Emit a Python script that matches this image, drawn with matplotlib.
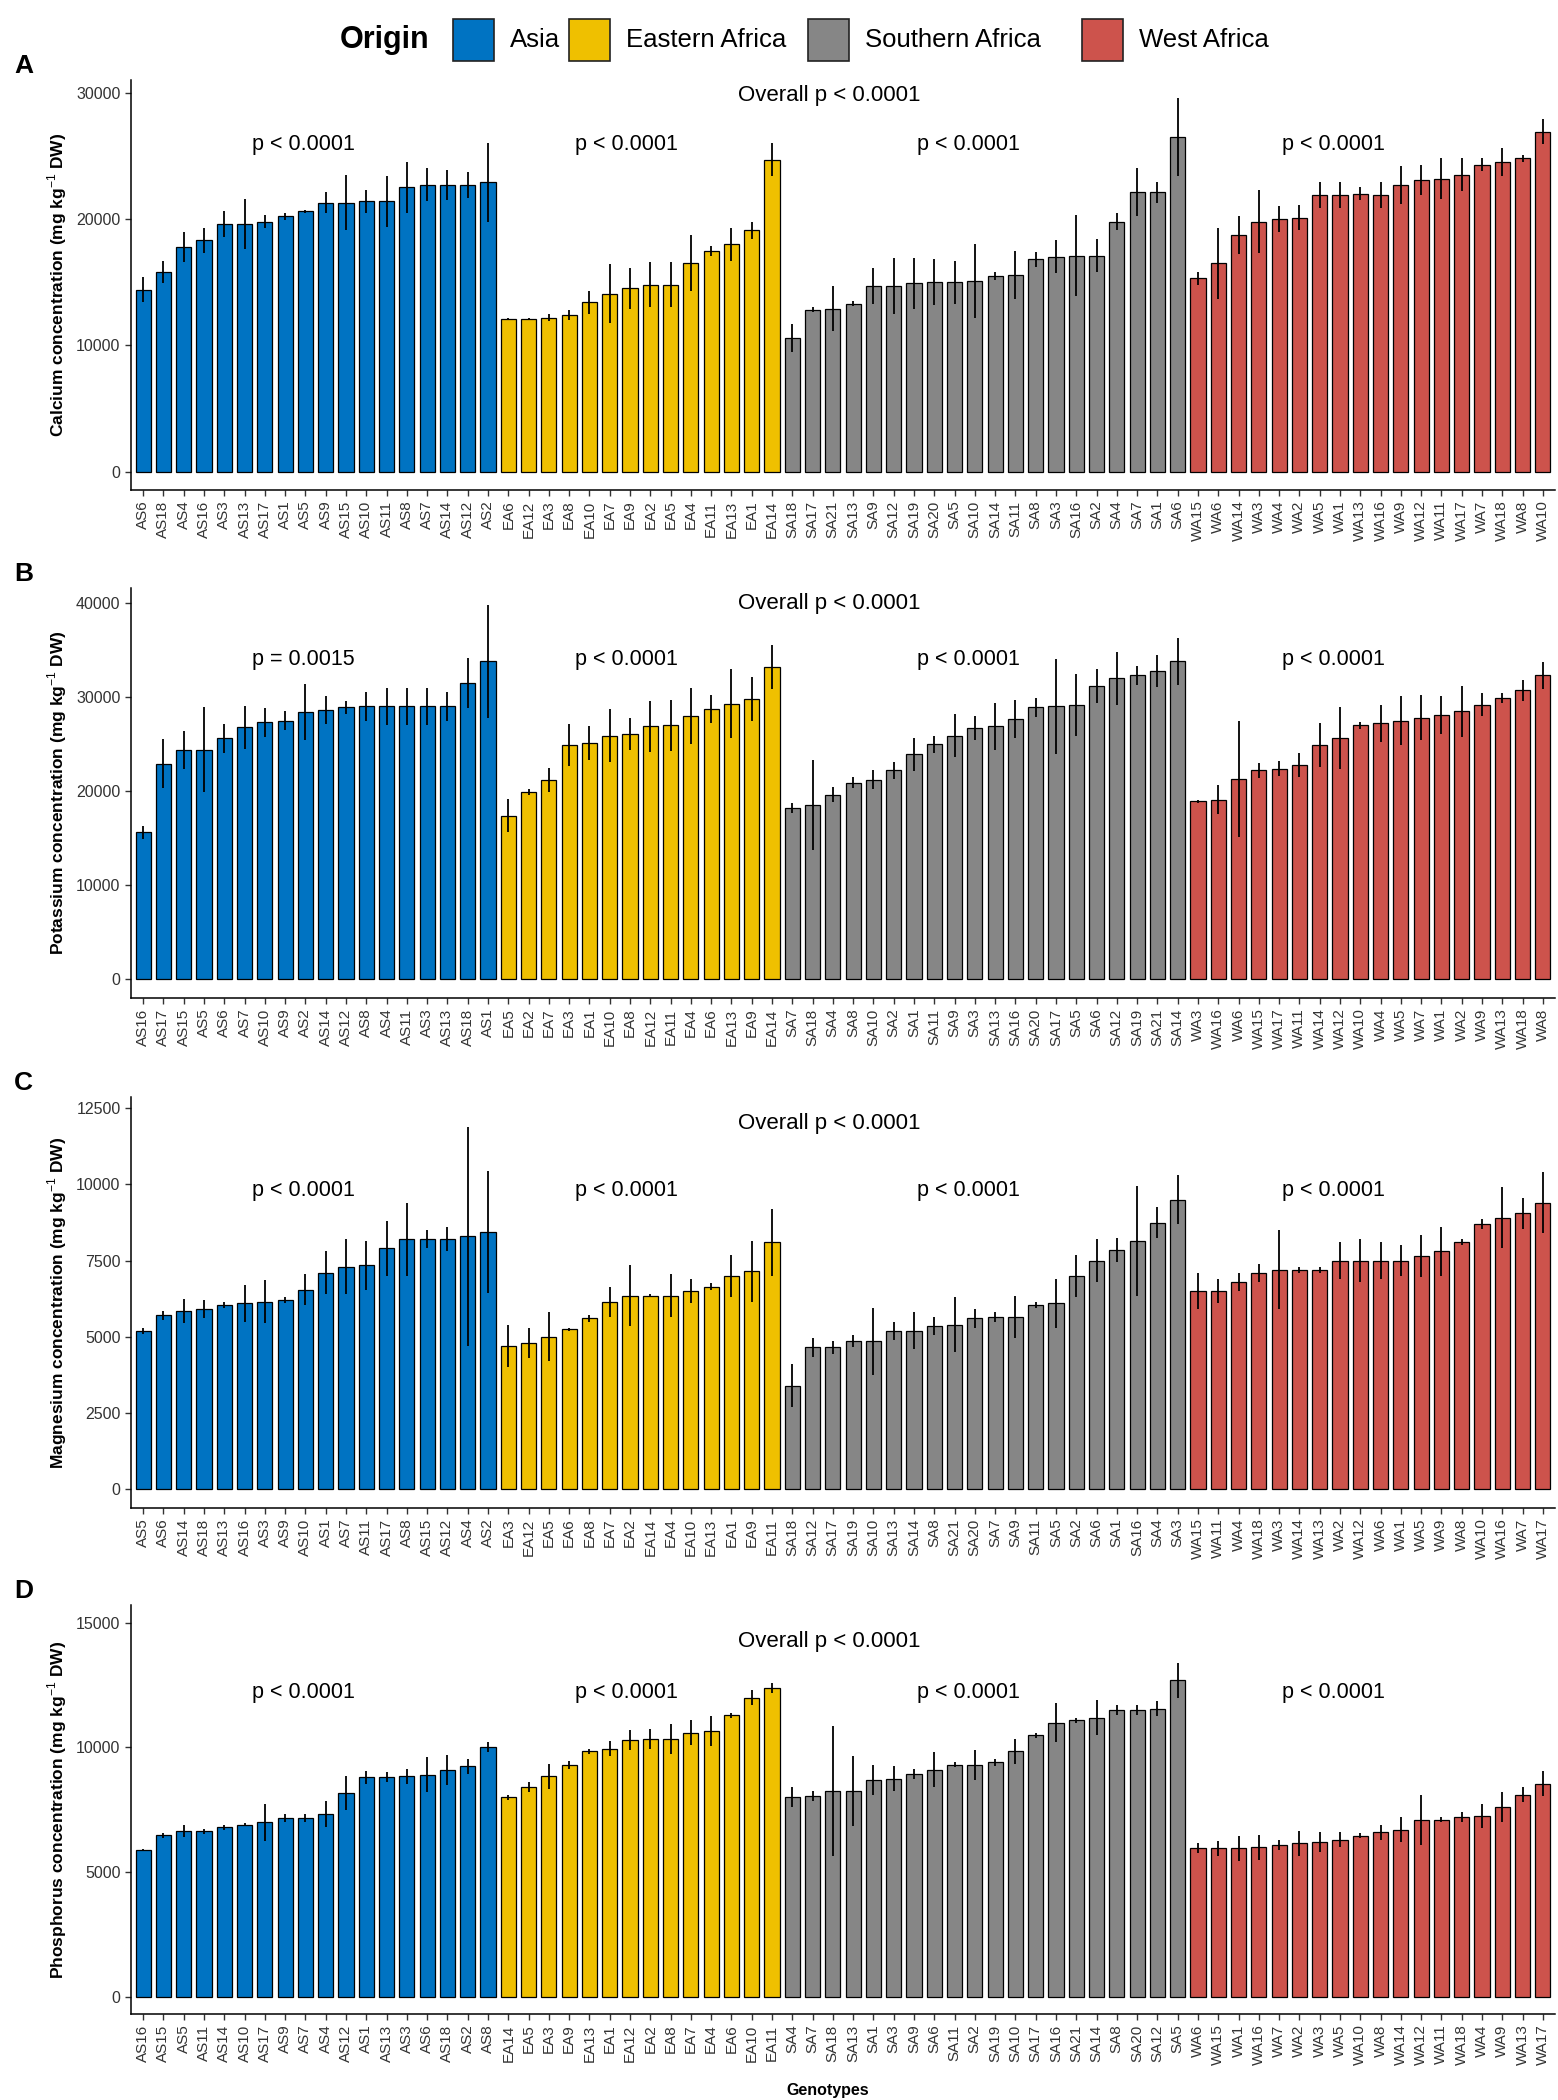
import matplotlib.pyplot as plt
from matplotlib.patches import Rectangle

plt.rcParams['font.family'] = ['Liberation Sans', 'DejaVu Sans']
plt.rcParams['mathtext.fontset'] = 'custom'
plt.rcParams['mathtext.rm'] = 'Liberation Sans'
plt.rcParams['mathtext.bf'] = 'Liberation Sans:bold'

origins = ['Asia', 'Eastern Africa', 'Southern Africa', 'West Africa']
prefixes = ['AS', 'EA', 'SA', 'WA']
colors = ['#0073C2', '#EFC000', '#868686', '#CD534C']

# A - calcium
ca_genotypes = ['AS6', 'AS18', 'AS4', 'AS16', 'AS3', 'AS13', 'AS17', 'AS1', 'AS5', 'AS9', 'AS15', 'AS10', 'AS11', 'AS8', 'AS7', 'AS14', 'AS12', 'AS2',
                'EA6', 'EA12', 'EA3', 'EA8', 'EA10', 'EA7', 'EA9', 'EA2', 'EA5', 'EA4', 'EA11', 'EA13', 'EA1', 'EA14',
                'SA18', 'SA17', 'SA21', 'SA13', 'SA9', 'SA12', 'SA19', 'SA20', 'SA5', 'SA10', 'SA14', 'SA11', 'SA8', 'SA3', 'SA16', 'SA2', 'SA4', 'SA7', 'SA1', 'SA6',
                'WA15', 'WA6', 'WA14', 'WA3', 'WA4', 'WA2', 'WA5', 'WA1', 'WA13', 'WA16', 'WA9', 'WA12', 'WA11', 'WA17', 'WA7', 'WA18', 'WA8', 'WA10']
ca_mean = [14400, 15800, 17800, 18300, 19600, 19600, 19800, 20200, 20600, 21300, 21300, 21400, 21400, 22500, 22700, 22700, 22700, 22900,
           12100, 12100, 12200, 12400, 13400, 14100, 14500, 14800, 14800, 16500, 17500, 18000, 19100, 24700,
           10600, 12800, 12900, 13300, 14700, 14700, 14900, 15000, 15000, 15100, 15500, 15600, 16800, 17000, 17100, 17100, 19800, 22100, 22100, 26500,
           15300, 16500, 18700, 19800, 20000, 20100, 21900, 21900, 22000, 21900, 22700, 23100, 23200, 23500, 24300, 24500, 24800, 26900]
ca_err = [1000, 900, 1200, 1000, 1000, 2000, 500, 300, 100, 800, 2200, 900, 2000, 2000, 1300, 1200, 1000, 3100,
          100, 100, 300, 400, 900, 2300, 1600, 1800, 1800, 2200, 400, 1300, 700, 1300,
          1100, 200, 1800, 200, 1400, 2200, 2000, 1800, 1700, 2900, 300, 1900, 600, 1300, 3200, 1300, 700, 1900, 800, 3100,
          500, 2800, 1500, 2500, 1000, 1000, 1000, 1000, 500, 1000, 1500, 1200, 1600, 1300, 500, 1100, 300, 1000]

# B - potassium
k_genotypes = ['AS16', 'AS17', 'AS15', 'AS5', 'AS6', 'AS7', 'AS10', 'AS9', 'AS2', 'AS14', 'AS12', 'AS8', 'AS4', 'AS11', 'AS3', 'AS13', 'AS18', 'AS1',
               'EA5', 'EA2', 'EA7', 'EA3', 'EA1', 'EA10', 'EA8', 'EA12', 'EA11', 'EA4', 'EA6', 'EA13', 'EA9', 'EA14',
               'SA7', 'SA18', 'SA4', 'SA8', 'SA10', 'SA2', 'SA1', 'SA11', 'SA9', 'SA3', 'SA13', 'SA16', 'SA20', 'SA17', 'SA5', 'SA6', 'SA12', 'SA19', 'SA21', 'SA14',
               'WA3', 'WA16', 'WA6', 'WA15', 'WA17', 'WA11', 'WA14', 'WA12', 'WA10', 'WA4', 'WA5', 'WA7', 'WA1', 'WA2', 'WA9', 'WA13', 'WA18', 'WA8']
k_mean = [15600, 22900, 24400, 24400, 25600, 26800, 27300, 27500, 28400, 28600, 28900, 29000, 29000, 29000, 29000, 29000, 31500, 33800,
          17400, 19900, 21200, 24900, 25100, 25900, 26100, 26900, 27000, 28000, 28700, 29300, 29800, 33200,
          18200, 18500, 19600, 20900, 21200, 22200, 23900, 25000, 25900, 26700, 26900, 27700, 28900, 29000, 29200, 31200, 32000, 32300, 32800, 33800,
          18900, 19100, 21300, 22200, 22400, 22800, 24900, 25600, 27000, 27200, 27500, 27800, 28100, 28500, 29200, 29900, 30700, 32300]
k_err = [700, 2600, 2000, 4500, 1500, 2300, 1500, 1000, 3000, 1500, 700, 1500, 2000, 2000, 2000, 1500, 2700, 6000,
         1800, 300, 1300, 2200, 1800, 2800, 1700, 2700, 2700, 3000, 1500, 3700, 2300, 2300,
         500, 4800, 800, 600, 1000, 900, 1800, 900, 2300, 1300, 2500, 2000, 1000, 5000, 3300, 1800, 2800, 1000, 1700, 2500,
         200, 1500, 6200, 800, 800, 1300, 2300, 3300, 400, 2000, 2600, 2400, 2000, 2700, 1200, 500, 1100, 1400]

# C - magnesium
mg_genotypes = ['AS5', 'AS6', 'AS14', 'AS18', 'AS13', 'AS16', 'AS3', 'AS9', 'AS10', 'AS1', 'AS7', 'AS11', 'AS17', 'AS8', 'AS15', 'AS12', 'AS4', 'AS2',
                'EA3', 'EA12', 'EA5', 'EA6', 'EA8', 'EA7', 'EA2', 'EA14', 'EA4', 'EA10', 'EA13', 'EA1', 'EA9', 'EA11',
                'SA18', 'SA12', 'SA17', 'SA19', 'SA10', 'SA13', 'SA14', 'SA8', 'SA21', 'SA20', 'SA7', 'SA9', 'SA11', 'SA5', 'SA2', 'SA6', 'SA1', 'SA16', 'SA4', 'SA3',
                'WA15', 'WA11', 'WA4', 'WA18', 'WA3', 'WA14', 'WA13', 'WA2', 'WA12', 'WA6', 'WA1', 'WA5', 'WA9', 'WA8', 'WA10', 'WA16', 'WA7', 'WA17']
mg_mean = [5200, 5700, 5850, 5900, 6050, 6100, 6150, 6200, 6550, 7100, 7300, 7350, 7900, 8200, 8200, 8200, 8300, 8450,
           4700, 4800, 5000, 5250, 5600, 6150, 6350, 6350, 6350, 6500, 6650, 7000, 7150, 8100,
           3400, 4650, 4650, 4850, 4850, 5200, 5200, 5350, 5400, 5600, 5650, 5650, 6050, 6100, 7000, 7500, 7850, 8150, 8750, 9500,
           6500, 6500, 6800, 7100, 7200, 7200, 7200, 7500, 7500, 7500, 7500, 7650, 7800, 8100, 8700, 8900, 9050, 9400]
mg_err = [100, 150, 400, 300, 100, 600, 700, 100, 500, 700, 900, 800, 900, 1200, 300, 400, 3600, 2000,
          700, 500, 800, 50, 100, 500, 1000, 50, 700, 400, 100, 700, 1000, 1100,
          700, 300, 200, 200, 1100, 300, 600, 300, 900, 300, 150, 700, 100, 800, 700, 700, 400, 1800, 500, 800,
          600, 400, 300, 300, 1300, 100, 100, 600, 700, 600, 500, 700, 800, 100, 150, 1000, 500, 1000]

# D - phosphorus
p_genotypes = ['AS16', 'AS15', 'AS5', 'AS11', 'AS14', 'AS10', 'AS17', 'AS9', 'AS7', 'AS4', 'AS12', 'AS1', 'AS13', 'AS3', 'AS6', 'AS18', 'AS2', 'AS8',
               'EA14', 'EA5', 'EA3', 'EA9', 'EA13', 'EA1', 'EA12', 'EA2', 'EA8', 'EA7', 'EA4', 'EA6', 'EA10', 'EA11',
               'SA4', 'SA7', 'SA18', 'SA13', 'SA1', 'SA3', 'SA9', 'SA6', 'SA11', 'SA2', 'SA19', 'SA10', 'SA17', 'SA16', 'SA21', 'SA14', 'SA8', 'SA20', 'SA12', 'SA5',
               'WA6', 'WA15', 'WA1', 'WA16', 'WA7', 'WA2', 'WA3', 'WA5', 'WA10', 'WA8', 'WA14', 'WA12', 'WA11', 'WA18', 'WA4', 'WA9', 'WA13', 'WA17']
p_mean = [5880, 6480, 6640, 6640, 6800, 6900, 7000, 7170, 7170, 7330, 8170, 8800, 8800, 8850, 8900, 9100, 9250, 10000,
          8000, 8400, 8850, 9300, 9850, 9950, 10300, 10350, 10350, 10600, 10650, 11300, 12000, 12400,
          8000, 8050, 8250, 8250, 8700, 8750, 8950, 9100, 9300, 9300, 9400, 9850, 10500, 11000, 11100, 11200, 11500, 11500, 11550, 12700,
          5950, 5950, 5950, 6000, 6100, 6150, 6200, 6300, 6450, 6600, 6700, 7100, 7100, 7200, 7250, 7600, 8100, 8550]
p_err = [50, 100, 250, 100, 100, 50, 750, 150, 150, 540, 700, 250, 200, 300, 700, 600, 300, 200,
         100, 200, 500, 150, 100, 300, 400, 400, 600, 500, 600, 100, 300, 200,
         400, 200, 2600, 1400, 600, 500, 200, 700, 100, 600, 150, 500, 100, 800, 100, 700, 200, 200, 300, 700,
         200, 300, 500, 500, 200, 500, 400, 300, 100, 300, 500, 1000, 100, 200, 500, 600, 300, 500]

panels = [
    ('A', ca_genotypes, ca_mean, ca_err, 'Calcium', (80, 490), (-1450, 31000), range(0, 30001, 10000),
     29800, 25900, ['p < 0.0001', 'p < 0.0001', 'p < 0.0001', 'p < 0.0001']),
    ('B', k_genotypes, k_mean, k_err, 'Potassium', (588, 998), (-2000, 41600), range(0, 40001, 10000),
     40000, 34000, ['p = 0.0015', 'p < 0.0001', 'p < 0.0001', 'p < 0.0001']),
    ('C', mg_genotypes, mg_mean, mg_err, 'Magnesium', (1097, 1508), (-620, 12870), range(0, 12501, 2500),
     12000, 9800, ['p < 0.0001', 'p < 0.0001', 'p < 0.0001', 'p < 0.0001']),
    ('D', p_genotypes, p_mean, p_err, 'Phosphorus', (1605, 2014), (-700, 15720), range(0, 15001, 5000),
     14250, 12200, ['p < 0.0001', 'p < 0.0001', 'p < 0.0001', 'p < 0.0001']),
]
# x positions of the group p-value labels and the overall label (bar units)
grp_x = [7.9, 23.8, 40.7, 58.7]
all_x = 33.8

W, H = 1558, 2100
fig = plt.figure(figsize=(W / 100, H / 100), dpi=100)
left, right = 131, 1555
tick_col = '#333333'

for letter, genos, means, errs, element, (top, bottom), ylim, yticks, y_all, y_grp, grp_txt in panels:
    ax = fig.add_axes([left / W, 1 - bottom / H, (right - left) / W, (bottom - top) / H])
    x = list(range(len(genos)))
    cols = [colors[prefixes.index(g[:2])] for g in genos]
    ax.bar(x, means, width=0.75, color=cols, edgecolor='black', linewidth=0.9, zorder=2)
    ax.vlines(x, [m - e for m, e in zip(means, errs)], [m + e for m, e in zip(means, errs)],
              color='black', linewidth=1.3, zorder=3)
    ax.set_xlim(-0.6, len(genos) - 0.4)
    ax.set_ylim(*ylim)
    ax.set_yticks(list(yticks))
    ax.set_xticks(x)
    ax.set_xticklabels(genos, rotation=90, fontsize=11, color=tick_col)
    ax.tick_params(axis='y', labelsize=11.5, labelcolor=tick_col)
    ax.tick_params(length=4, width=1, color='#333333')
    for s in ['top', 'right']:
        ax.spines[s].set_visible(False)
    for s in ['left', 'bottom']:
        ax.spines[s].set_linewidth(1.1)
    ax.set_ylabel(element + r' concentration (mg kg$^{-1}$ DW)', fontsize=12.5, fontweight='bold', labelpad=5)

    for gx, t in zip(grp_x, grp_txt):
        ax.text(gx, y_grp, t, ha='center', va='center', fontsize=15.5)
    ax.text(all_x, y_all, 'Overall p < 0.0001', ha='center', va='center', fontsize=16)

    fig.text(14 / W, 1 - (top - 14) / H, letter, fontsize=19, fontweight='bold', ha='left', va='center')

fig.text(828 / W, 1 - 2090 / H, 'Genotypes', fontsize=11.5, fontweight='bold', ha='center', va='center')

# legend across the top
fig.text(385 / W, 1 - 40 / H, 'Origin', fontsize=22, fontweight='bold', ha='center', va='center')
patch_x = [453, 569, 808, 1082]
for px, lab, c in zip(patch_x, origins, colors):
    fig.patches.append(Rectangle((px / W, 1 - 61 / H), 41 / W, 42 / H, transform=fig.transFigure,
                                 facecolor=c, edgecolor='#222222', linewidth=1.2))
    fig.text((px + 57) / W, 1 - 40 / H, lab, fontsize=18.5, ha='left', va='center')

fig.savefig('out.png', dpi=100)
